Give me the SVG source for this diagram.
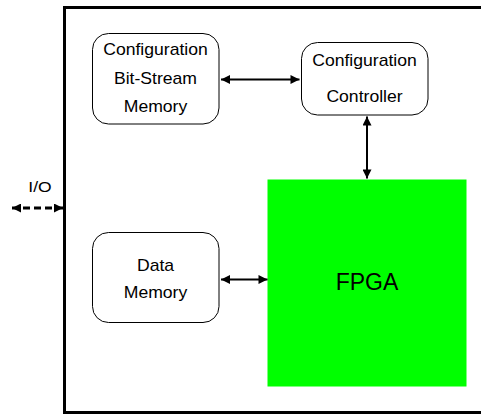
<svg xmlns="http://www.w3.org/2000/svg" width="481" height="416" viewBox="0 0 481 416">
  <defs>
    <style>
      .box { fill: #ffffff; stroke: #000000; stroke-width: 1; }
      .fpga { fill: #00ff00; stroke: none; }
      .label { font-family: "Liberation Sans", Arial, sans-serif; font-size: 16px; fill: #000000; text-anchor: middle; }
      .big { font-size: 23px; }
      .link { stroke: #000000; stroke-width: 2; fill: none; marker-start: url(#head); marker-end: url(#head); }
      .dash { stroke-width: 3; stroke-dasharray: 7 4; marker-start: url(#headIO); marker-end: url(#headIO); }
    </style>
    <marker id="head" viewBox="0 0 10 10" refX="10" refY="5" markerWidth="5" markerHeight="4.5" orient="auto-start-reverse" markerUnits="strokeWidth">
      <path d="M0,0 L10,5 L0,10 Z" fill="#000000"/>
    </marker>
    <marker id="headIO" viewBox="0 0 10 10" refX="10" refY="5" markerWidth="3" markerHeight="3" orient="auto-start-reverse" markerUnits="strokeWidth">
      <path d="M0,0 L10,5 L0,10 Z" fill="#000000"/>
    </marker>
  </defs>

  <!-- system boundary (right edge runs past the canvas) -->
  <rect x="64.5" y="7.5" width="430" height="405" fill="none" stroke="#000000" stroke-width="3"/>

  <g id="bitstream-memory">
    <rect class="box" x="92.5" y="33.5" width="126.5" height="90.5" rx="16" ry="16"/>
    <text class="label" transform="translate(155.5,55) scale(1.1,1)">Configuration</text>
    <text class="label" transform="translate(155.5,84) scale(1.1,1)">Bit-Stream</text>
    <text class="label" transform="translate(155.5,112) scale(1.1,1)">Memory</text>
  </g>

  <g id="config-controller">
    <rect class="box" x="301.5" y="42.5" width="126.5" height="72.5" rx="16" ry="16"/>
    <text class="label" transform="translate(364.5,65.5) scale(1.1,1)">Configuration</text>
    <text class="label" transform="translate(364.5,101.5) scale(1.1,1)">Controller</text>
  </g>

  <g id="data-memory">
    <rect class="box" x="92.5" y="232.5" width="126.5" height="90" rx="16" ry="16"/>
    <text class="label" transform="translate(155.5,270.5) scale(1.1,1)">Data</text>
    <text class="label" transform="translate(155.5,298) scale(1.1,1)">Memory</text>
  </g>

  <g id="fpga">
    <rect class="fpga" x="267.5" y="179.5" width="199" height="207"/>
    <text class="label big" x="367" y="289.5">FPGA</text>
  </g>

  <g id="io-label">
    <text class="label" transform="translate(40,192) scale(1.25,1)" style="font-size:14px">I/O</text>
  </g>

  <g id="connectors">
    <line class="link" x1="221" y1="79.5" x2="299.5" y2="79.5"/>
    <line class="link" x1="367" y1="116.5" x2="367" y2="178.5"/>
    <line class="link" x1="221" y1="279.5" x2="267.5" y2="279.5"/>
    <line class="link dash" x1="12" y1="208" x2="63" y2="208"/>
  </g>
</svg>
